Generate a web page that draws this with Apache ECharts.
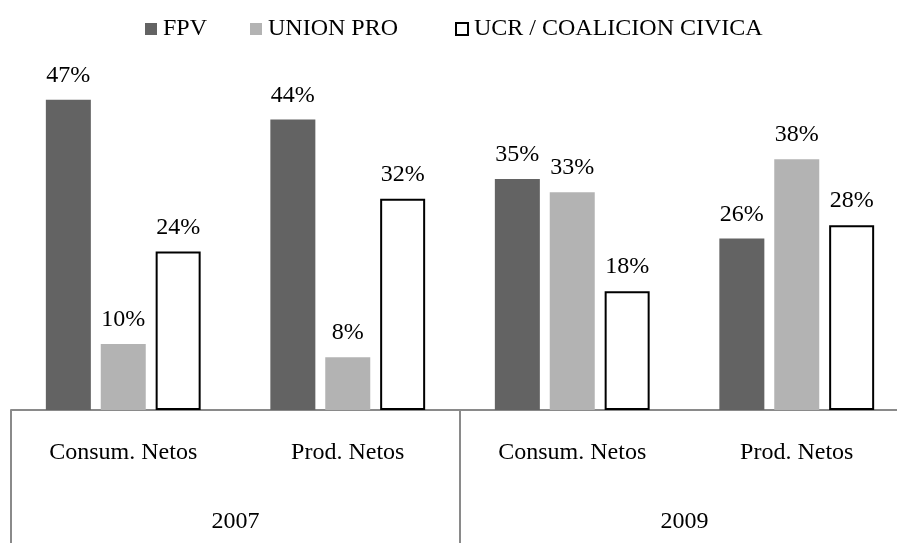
<!DOCTYPE html>
<html>
<head>
<meta charset="utf-8">
<script src="https://cdn.jsdelivr.net/npm/echarts@6/dist/echarts.min.js"></script>
<style>html,body{margin:0;padding:0;background:#fff;overflow:hidden;width:897px;height:543px;}#c{width:910px;height:543px;}</style>
</head>
<body>
<div id="c"></div>
<script>
const categories = ['Consum. Netos', 'Prod. Netos', 'Consum. Netos', 'Prod. Netos'];
const years = ['2007', '2009'];
const seriesNames = ['FPV', 'UNION PRO', 'UCR / COALICION CIVICA'];
const fpv = [47, 44, 35, 26];
const unionPro = [10, 8, 33, 38];
const ucr = [24, 32, 18, 28];

const FONT = '"Liberation Serif", serif';
const FS = 24;
const chart = echarts.init(document.getElementById('c'), null, {renderer: 'canvas'});
const labelCfg = {
  show: true, position: 'top', distance: 12,
  formatter: p => p.value + '%',
  fontFamily: FONT, fontSize: FS, color: '#000'
};
const colors = ['#636363', '#b3b3b3', '#ffffff'];
const values = [fpv, unionPro, ucr];
const legendLefts = [140, 245, 450];

chart.setOption({
  animation: false,
  backgroundColor: '#fff',
  legend: seriesNames.map((n, i) => ({
    data: [{name: n, itemStyle: i === 2 ? {color: '#fff', borderColor: '#000', borderWidth: 2} : {color: colors[i]}}],
    left: legendLefts[i], top: 12,
    icon: 'rect', itemWidth: 12, itemHeight: 12, itemGap: 6,
    textStyle: {fontFamily: FONT, fontSize: FS, color: '#000', padding: [0, 0, 0, 1]}
  })),
  grid: {left: 11, top: 80, right: 1, bottom: 133, containLabel: false},
  xAxis: [
    {
      type: 'category', data: categories, position: 'bottom',
      axisLine: {show: true, lineStyle: {color: '#8a8a8a', width: 2}},
      axisTick: {show: false},
      axisLabel: {margin: 31, fontFamily: FONT, fontSize: FS, color: '#000', interval: 0}
    },
    {
      type: 'category', data: years, position: 'bottom',
      axisLine: {show: false},
      axisTick: {show: true, length: 140, lineStyle: {color: '#8a8a8a', width: 2}},
      axisLabel: {margin: 100, fontFamily: FONT, fontSize: FS, color: '#000', interval: 0}
    }
  ],
  yAxis: {type: 'value', min: 0, max: 50, show: false, splitLine: {show: false}},
  series: seriesNames.map((n, i) => ({
    name: n, type: 'bar', xAxisIndex: 0, data: values[i],
    barWidth: 45, barGap: '22%',
    itemStyle: i === 2 ? {color: '#fff', borderColor: '#000', borderWidth: 2} : {color: colors[i]},
    label: labelCfg
  }))
});
</script>
</body>
</html>
